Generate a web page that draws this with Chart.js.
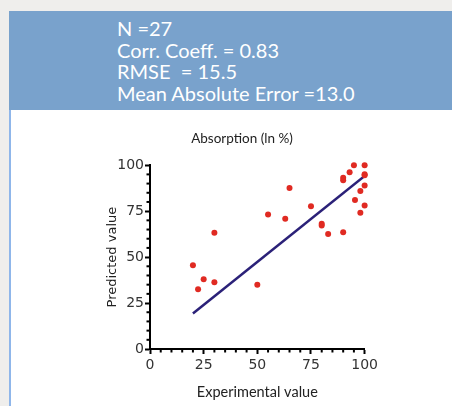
<!DOCTYPE html>
<html>
<head>
<meta charset="utf-8">
<script src="https://cdn.jsdelivr.net/npm/chart.js@4"></script>
<style>
  html, body { margin: 0; padding: 0; width: 452px; height: 406px; overflow: hidden; background: #efeeec; }
  #panel { position: absolute; left: 9px; top: 11px; width: 443px; height: 395px; background: #fff; border-left: 2px solid #8fb6ea; box-sizing: border-box; }
  #header { position: absolute; left: 9px; top: 11px; width: 443px; height: 99px; background: #79a2cc; }
  #stats { position: absolute; left: 117px; top: 18px; color: #fff; font-family: Lato, sans-serif; font-size: 20px; line-height: 21.7px; white-space: pre; }
  #wrap { position: absolute; left: 103px; top: 117px; width: 278px; height: 289px; }
</style>
</head>
<body>
<div id="panel"></div>
<div id="header"></div>
<div id="stats"></div>
<div id="wrap"><canvas id="c"></canvas></div>
<script>
const statLines = ["N =27", "Corr. Coeff. = 0.83", "RMSE  = 15.5", "Mean Absolute Error =13.0"];
const chartTitle = "Absorption (ln %)";
const xTitle = "Experimental value";
const yTitle = "Predicted value";

const experimental = [20, 22.4, 25, 30, 30, 50, 55, 63, 65, 75, 80, 80, 83, 90, 90, 90, 93, 95, 95.5, 98, 98, 100, 100, 100, 100, 100];
const predicted =    [45.6, 32.5, 38, 63.3, 36.3, 35, 73.2, 70.8, 87.6, 77.6, 68.2, 67.2, 62.6, 63.5, 93.2, 91.8, 96.2, 100, 81, 86, 74.1, 100, 95.1, 94.5, 88.9, 78.1];
const fitX = [20, 100];
const fitY = [19.3, 94.2];
const tickValues = [0, 25, 50, 75, 100];

document.getElementById('stats').textContent = statLines.join('\n');

const points = experimental.map((x, i) => ({ x: x, y: predicted[i] }));
const fit = fitX.map((x, i) => ({ x: x, y: fitY[i] }));

const tickFont = { family: "'DejaVu Sans', sans-serif", size: 14 };

function axisOpts(isX) {
  return {
    type: 'linear',
    min: 0, max: 100,
    ticks: {
      stepSize: 5,
      autoSkip: false,
      maxRotation: 0,
      color: '#333',
      font: tickFont,
      padding: isX ? 3 : 1,
      callback: v => (tickValues.includes(v) ? String(v) : '')
    },
    grid: {
      drawOnChartArea: false,
      drawTicks: true,
      tickLength: 5,
      tickColor: ctx => (ctx.tick && tickValues.includes(ctx.tick.value)) ? '#000' : 'rgba(0,0,0,0)',
      tickWidth: 2
    },
    border: { display: true, color: '#000', width: 2 },
    title: {
      display: true,
      text: isX ? xTitle : yTitle,
      color: '#222',
      font: isX ? { family: "Lato, sans-serif", size: 14.5 } : { family: "'DejaVu Sans', sans-serif", size: 13 },
      padding: isX ? { top: 6, bottom: 5 } : { top: 2, bottom: 4 }
    },
    afterFit: s => { if (isX) { s.height = 57; } else { s.width = 47; } }
  };
}

const minorTicks = {
  id: 'minorTicks',
  afterDraw(chart) {
    const ctx = chart.ctx;
    const xs = chart.scales.x, ys = chart.scales.y;
    ctx.save();
    ctx.strokeStyle = '#000';
    ctx.lineWidth = 2;
    xs.ticks.forEach(t => {
      if (tickValues.includes(t.value)) return;
      const px = xs.getPixelForValue(t.value);
      ctx.beginPath(); ctx.moveTo(px, xs.top); ctx.lineTo(px, xs.top + 3.5); ctx.stroke();
    });
    ys.ticks.forEach(t => {
      if (tickValues.includes(t.value)) return;
      const py = ys.getPixelForValue(t.value);
      ctx.beginPath(); ctx.moveTo(ys.right, py); ctx.lineTo(ys.right - 3.5, py); ctx.stroke();
    });
    ctx.restore();
  }
};

new Chart(document.getElementById('c'), {
  type: 'scatter',
  data: {
    datasets: [
      {
        type: 'line',
        data: fit,
        borderColor: '#2b2178',
        borderWidth: 2.5,
        pointRadius: 0,
        fill: false,
        order: 2
      },
      {
        data: points,
        backgroundColor: '#e02a22',
        borderColor: '#e02a22',
        pointRadius: 3,
        borderWidth: 0,
        clip: false,
        order: 1
      }
    ]
  },
  options: {
    responsive: true,
    maintainAspectRatio: false,
    animation: false,
    layout: { padding: { left: 0, right: 0, top: 0, bottom: 0 } },
    plugins: {
      legend: { display: false },
      tooltip: { enabled: false },
      title: {
        display: true,
        text: chartTitle,
        color: '#222',
        font: { family: "Lato, sans-serif", size: 13.5, weight: 'normal' },
        padding: { top: 14, bottom: 18 }
      }
    },
    scales: { x: axisOpts(true), y: axisOpts(false) }
  },
  plugins: [minorTicks]
});
</script>
</body>
</html>
